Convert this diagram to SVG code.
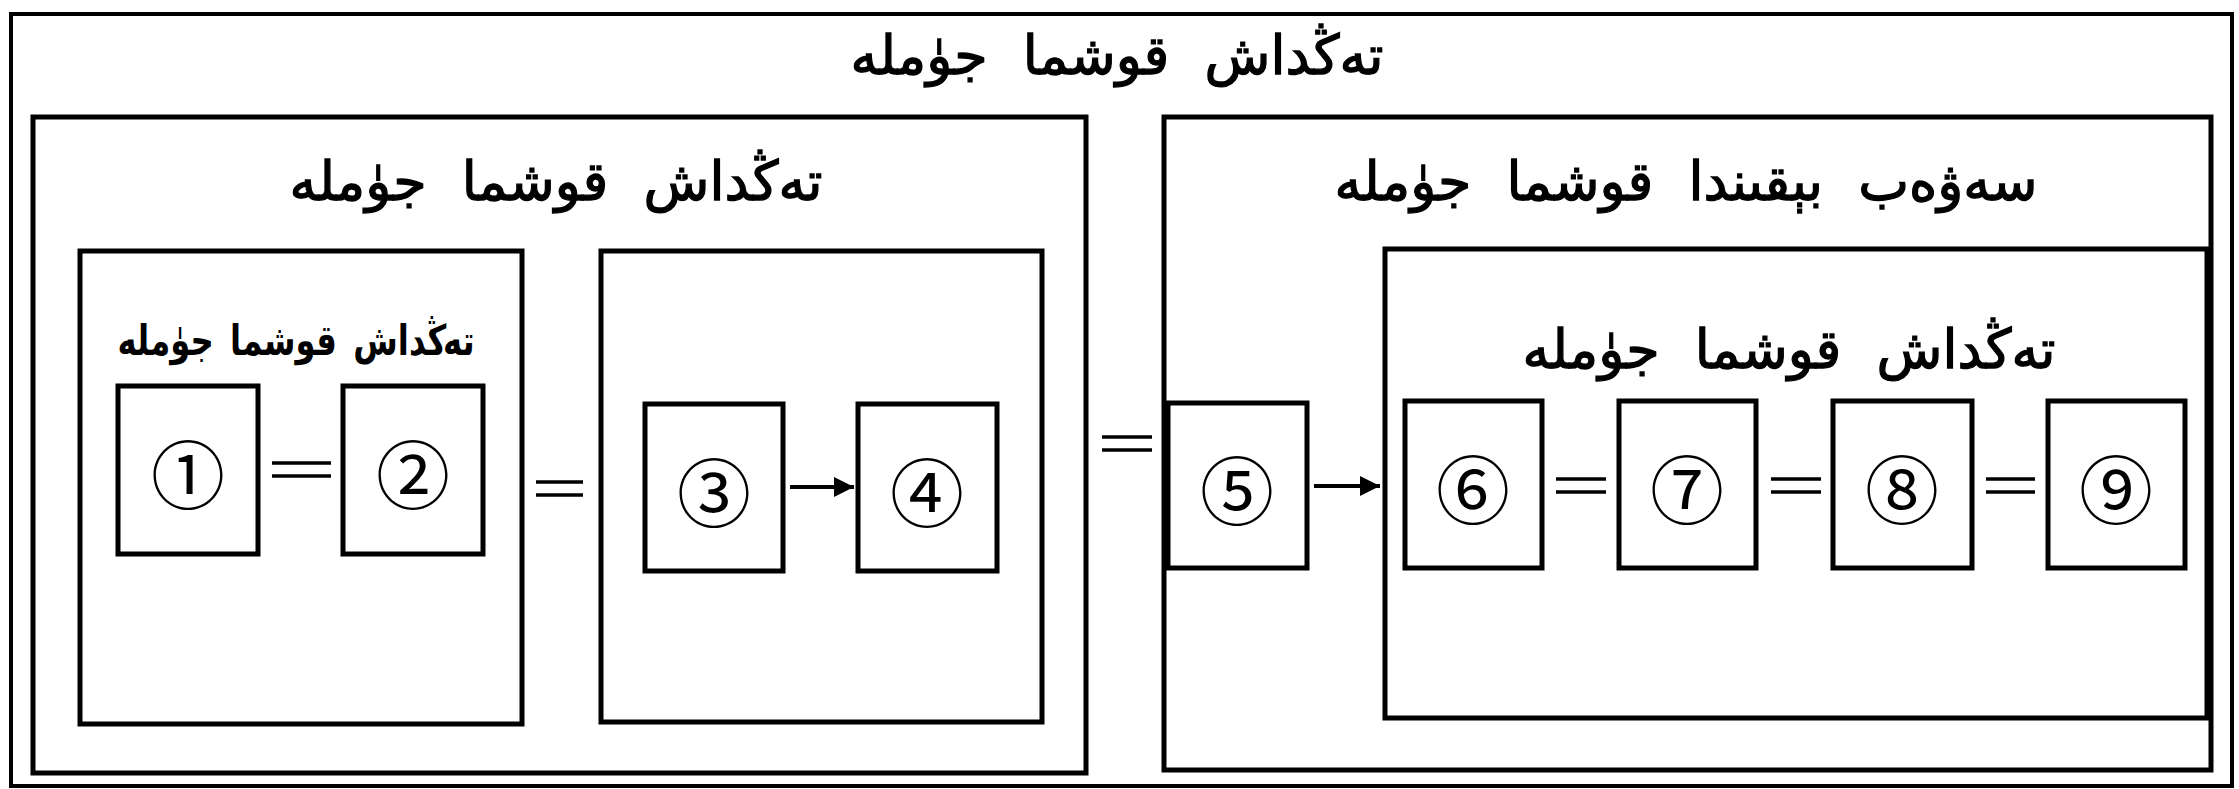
<svg xmlns="http://www.w3.org/2000/svg" width="2239" height="789" viewBox="0 0 2239 789">
  <style>
    .frame { fill: none; stroke: #000; stroke-width: 4; }
    .box { fill: none; stroke: #000; stroke-width: 5; }
    .item { fill: #fff; stroke: #000; stroke-width: 5; }
    .title { font-family: "DejaVu Sans", sans-serif; font-size: 54px; fill: #000; stroke: #000; stroke-width: 1.3; text-anchor: middle; word-spacing: 18px; }
    .subtitle { font-family: "DejaVu Sans", sans-serif; font-size: 38px; font-weight: bold; fill: #000; text-anchor: middle; word-spacing: 6px; }
    .num { font-family: "Noto Sans CJK SC", "DejaVu Sans", sans-serif; font-size: 74px; fill: #000; text-anchor: middle; dominant-baseline: central; }
    .eq { stroke: #000; stroke-width: 3.5; }
    .arr { stroke: #000; stroke-width: 4; fill: none; marker-end: url(#head); }
  </style>
  <defs>
    <marker id="head" viewBox="0 0 10 10" refX="10" refY="5" markerWidth="5.5" markerHeight="5" markerUnits="strokeWidth" orient="auto">
      <path d="M0,0 L10,5 L0,10 z" fill="#000"/>
    </marker>
  </defs>
  <rect width="2239" height="789" fill="#fff"/>

  <!-- outermost coordinate compound sentence -->
  <g id="whole">
    <rect class="frame" x="11" y="14" width="2221" height="772"/>
    <text class="title" x="1117" y="74" direction="rtl">تەڭداش قوشما جۈملە</text>
  </g>

  <!-- left half: coordinate compound sentence -->
  <g id="left">
    <rect class="box" x="33" y="117" width="1053" height="656"/>
    <text class="title" x="556" y="200" direction="rtl">تەڭداش قوشما جۈملە</text>
  </g>

  <g id="left-a">
    <rect class="box" x="80" y="251" width="442" height="473"/>
    <text class="subtitle" transform="translate(296 355) scale(0.85 1.1)" direction="rtl">تەڭداش قوشما جۈملە</text>
  </g>

  <g id="left-b">
    <rect class="box" x="601" y="251" width="441" height="471"/>
  </g>

  <!-- right half: causal subordinate compound sentence -->
  <g id="right">
    <rect class="box" x="1164" y="117" width="1047" height="653"/>
    <text class="title" x="1686" y="200" direction="rtl">سەۋەب بېقىندا قوشما جۈملە</text>
  </g>

  <g id="right-c">
    <rect class="box" x="1385" y="249" width="822" height="469"/>
    <text class="title" x="1789" y="368" direction="rtl">تەڭداش قوشما جۈملە</text>
  </g>

  <!-- clause nodes -->
  <g id="n1"><rect class="item" x="118" y="386" width="140" height="168"/><text class="num" x="188" y="470">①</text></g>
  <g id="n2"><rect class="item" x="343" y="386" width="140" height="168"/><text class="num" x="413" y="470">②</text></g>
  <g id="n3"><rect class="item" x="645" y="404" width="138" height="167"/><text class="num" x="714" y="488">③</text></g>
  <g id="n4"><rect class="item" x="858" y="404" width="139" height="167"/><text class="num" x="927" y="488">④</text></g>
  <g id="n5"><rect class="item" x="1168" y="403" width="139" height="165"/><text class="num" x="1237" y="486">⑤</text></g>
  <g id="n6"><rect class="item" x="1405" y="401" width="137" height="167"/><text class="num" x="1473" y="485">⑥</text></g>
  <g id="n7"><rect class="item" x="1619" y="401" width="137" height="167"/><text class="num" x="1687" y="485">⑦</text></g>
  <g id="n8"><rect class="item" x="1833" y="401" width="139" height="167"/><text class="num" x="1902" y="485">⑧</text></g>
  <g id="n9"><rect class="item" x="2048" y="401" width="137" height="167"/><text class="num" x="2116" y="485">⑨</text></g>

  <!-- relations: "=" for coordination, arrow for cause -->
  <g id="connectors">
    <line class="eq" x1="272" y1="463" x2="331" y2="463"/>
    <line class="eq" x1="272" y1="476" x2="331" y2="476"/>

    <line class="eq" x1="536" y1="482" x2="583" y2="482"/>
    <line class="eq" x1="536" y1="495" x2="583" y2="495"/>

    <line class="arr" x1="790" y1="487" x2="854" y2="487"/>

    <line class="eq" x1="1102" y1="437" x2="1152" y2="437"/>
    <line class="eq" x1="1102" y1="450" x2="1152" y2="450"/>

    <line class="arr" x1="1314" y1="486" x2="1380" y2="486"/>

    <line class="eq" x1="1556" y1="479" x2="1606" y2="479"/>
    <line class="eq" x1="1556" y1="492" x2="1606" y2="492"/>

    <line class="eq" x1="1771" y1="479" x2="1821" y2="479"/>
    <line class="eq" x1="1771" y1="492" x2="1821" y2="492"/>

    <line class="eq" x1="1986" y1="479" x2="2035" y2="479"/>
    <line class="eq" x1="1986" y1="492" x2="2035" y2="492"/>
  </g>
</svg>
